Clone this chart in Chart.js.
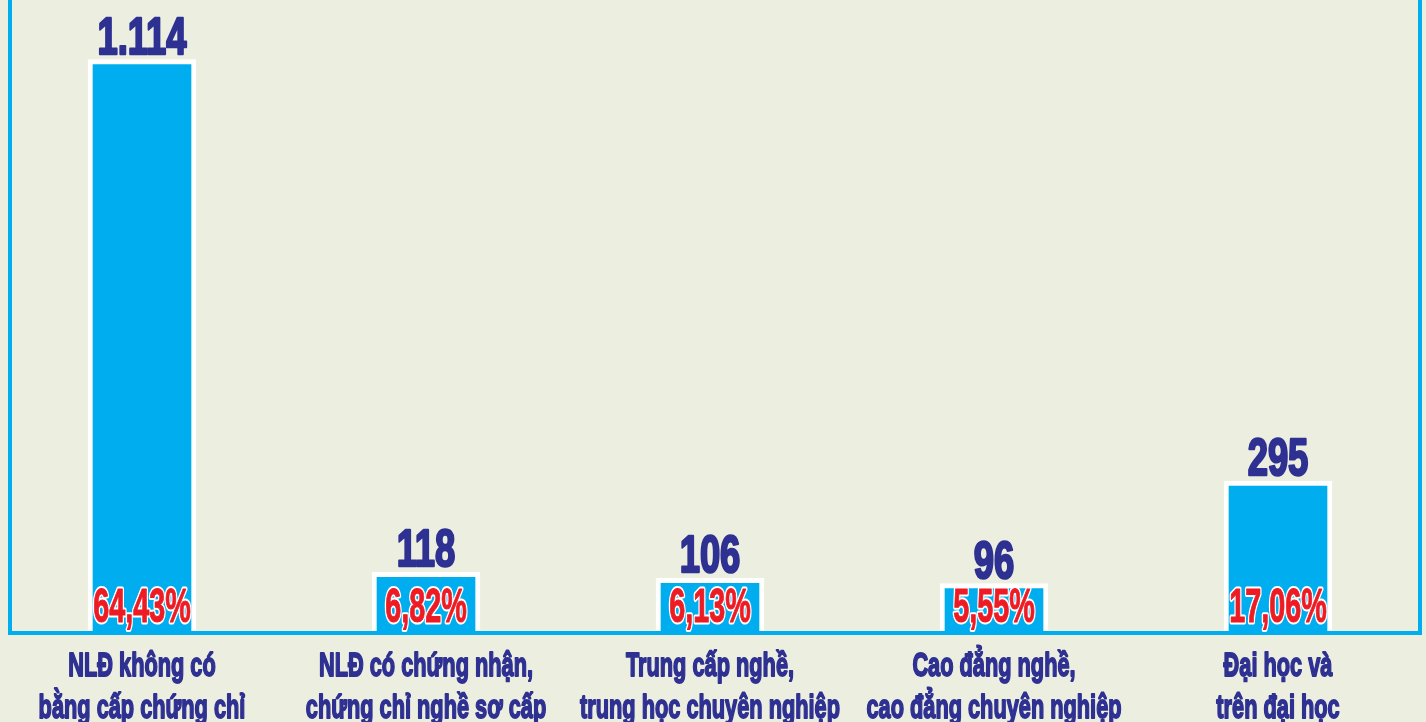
<!DOCTYPE html>
<html>
<head>
<meta charset="utf-8">
<script src="https://cdn.jsdelivr.net/npm/chart.js@4"></script>
<style>
    html, body { margin: 0; padding: 0; background: #ecefdf; overflow: hidden; }
    #wrap { position: relative; width: 1426px; height: 722px; }
</style>
</head>
<body>
<div id="wrap"><canvas id="workersChart"></canvas></div>
<script>
// Số lao động theo trình độ chuyên môn
const categories = [
    ['NLĐ không có', 'bằng cấp chứng chỉ'],
    ['NLĐ có chứng nhận,', 'chứng chỉ nghề sơ cấp'],
    ['Trung cấp nghề,', 'trung học chuyên nghiệp'],
    ['Cao đẳng nghề,', 'cao đẳng chuyên nghiệp'],
    ['Đại học và', 'trên đại học']
];
const workers = [1114, 118, 106, 96, 295];
const shares = [64.43, 6.82, 6.13, 5.55, 17.06];

const NAVY = '#2e3192';
const RED = '#ed1c24';
const CYAN = '#00aeef';
const FONT = '"Liberation Sans", Arial, sans-serif';

// vẽ chữ bị nén ngang (giả lập font condensed), có thể làm đậm thêm và viền trắng
function drawCondensed(ctx, text, x, y, font, scaleX, opts) {
    opts = opts || {};
    ctx.save();
    ctx.translate(x, y);
    ctx.scale(scaleX, 1);
    ctx.font = font;
    ctx.textAlign = 'center';
    ctx.textBaseline = 'alphabetic';
    ctx.lineJoin = 'round';
    if (opts.outline) {
        ctx.strokeStyle = '#ffffff';
        ctx.lineWidth = opts.outline;
        ctx.strokeText(text, 0, 0);
    }
    if (opts.heavy) {
        ctx.strokeStyle = ctx.fillStyle;
        ctx.lineWidth = opts.heavy;
        ctx.strokeText(text, 0, 0);
    }
    ctx.fillText(text, 0, 0);
    ctx.restore();
}

// khung xanh trái, phải, dưới
const framePlugin = {
    id: 'frame',
    afterDatasetsDraw(chart) {
        const { ctx, chartArea } = chart;
        ctx.save();
        ctx.strokeStyle = CYAN;
        ctx.lineWidth = 4;
        ctx.beginPath();
        ctx.moveTo(10, 0);
        ctx.lineTo(10, chartArea.bottom);
        ctx.lineTo(chartArea.right, chartArea.bottom);
        ctx.lineTo(chartArea.right, 0);
        ctx.stroke();
        ctx.restore();
    }
};

const labelPlugin = {
    id: 'barLabels',
    afterDraw(chart) {
        const ctx = chart.ctx;
        const meta = chart.getDatasetMeta(0);
        const xScale = chart.scales.x;
        const fmt = new Intl.NumberFormat('de-DE');
        meta.data.forEach((bar, i) => {
            // số lượng phía trên cột
            ctx.fillStyle = NAVY;
            drawCondensed(ctx, fmt.format(workers[i]), bar.x, bar.y - 6, 'bold 52px ' + FONT, 0.7, { heavy: 2.5 });

            // tỉ lệ % ở chân cột
            const pct = shares[i].toFixed(2).replace('.', ',') + '%';
            ctx.fillStyle = RED;
            drawCondensed(ctx, pct, bar.x, bar.base - 11, 'bold 48px ' + FONT, 0.6, { outline: 5, heavy: 1 });

            // nhãn danh mục dưới trục
            const lines = chart.data.labels[i];
            const cx = xScale.getPixelForTick(i);
            ctx.fillStyle = NAVY;
            lines.forEach((line, j) => {
                drawCondensed(ctx, line, cx, chart.chartArea.bottom + 43 + j * 42, 'bold 34px ' + FONT, 0.64, { heavy: 1.8 });
            });
        });
    }
};

new Chart(document.getElementById('workersChart'), {
    type: 'bar',
    data: {
        labels: categories,
        datasets: [{
            data: workers,
            backgroundColor: CYAN,
            borderColor: '#ffffff',
            borderWidth: 5,
            borderSkipped: 'start',
            barThickness: 108
        }]
    },
    options: {
        responsive: true,
        maintainAspectRatio: false,
        animation: false,
        layout: { padding: { left: -10, right: 6, top: 0, bottom: 89 } },
        plugins: {
            legend: { display: false },
            tooltip: { enabled: false }
        },
        scales: {
            y: {
                display: false,
                beginAtZero: true,
                max: 1230
            },
            x: {
                display: false
            }
        }
    },
    plugins: [framePlugin, labelPlugin]
});
</script>
</body>
</html>
